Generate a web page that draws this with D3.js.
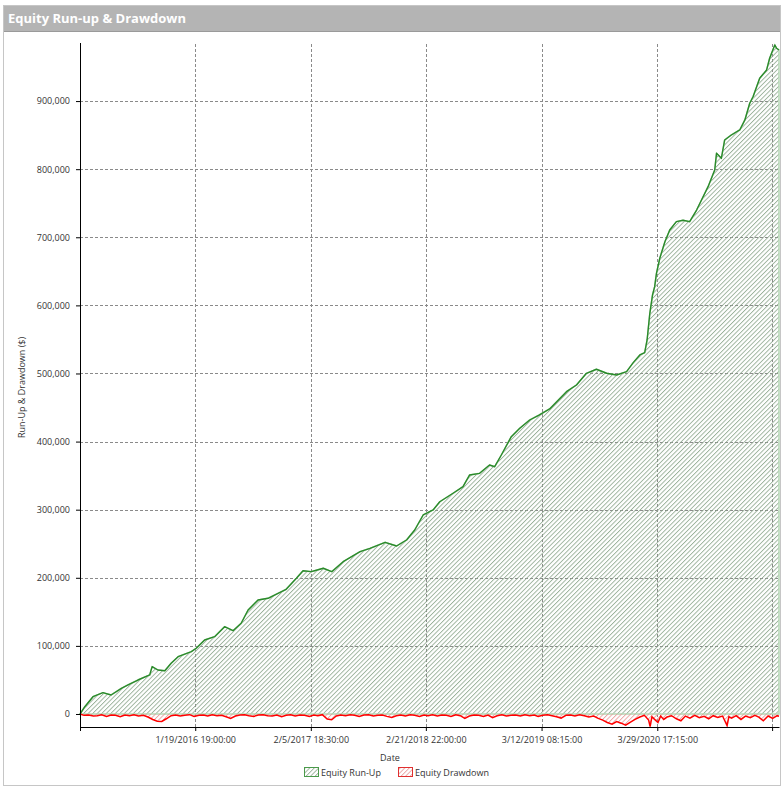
<!DOCTYPE html>
<html>
<head>
<meta charset="utf-8">
<script src="https://cdn.jsdelivr.net/npm/d3@7"></script>
<style>
  body { margin: 0; background: #fff; }
  text { font-family: "Open Sans", sans-serif; }
</style>
</head>
<body>
<div id="chart"></div>
<script>
// equity run-up
const runupDates = ["2015-01-03","2015-01-19","2015-02-15","2015-03-20","2015-04-16","2015-05-20","2015-06-11","2015-07-14","2015-08-22","2015-08-30",
  "2015-09-18","2015-10-11","2015-11-01","2015-11-24","2016-01-07","2016-01-23","2016-02-20","2016-03-24","2016-04-26","2016-05-24",
  "2016-06-20","2016-07-13","2016-08-15","2016-09-17","2016-10-20","2016-11-16","2016-12-20","2017-01-11","2017-02-07","2017-02-27",
  "2017-03-19","2017-04-16","2017-05-24","2017-07-19","2017-08-21","2017-10-10","2017-11-17","2017-12-20","2018-01-16","2018-02-13",
  "2018-03-18","2018-04-09","2018-05-23","2018-06-25","2018-07-17","2018-08-19","2018-09-21","2018-10-08","2018-10-30","2018-12-02",
  "2018-12-30","2019-02-01","2019-03-04","2019-04-08","2019-06-03","2019-07-06","2019-08-08","2019-09-10","2019-10-14","2019-11-16",
  "2019-12-19","2020-01-10","2020-02-01","2020-02-17","2020-02-25","2020-03-05","2020-03-14","2020-03-21","2020-03-27","2020-04-07",
  "2020-04-24","2020-05-10","2020-06-01","2020-06-23","2020-07-15","2020-08-07","2020-08-18","2020-09-14","2020-10-06","2020-10-12",
  "2020-10-28","2020-11-08","2020-11-30","2020-12-28","2021-01-14","2021-01-30","2021-02-10","2021-03-04","2021-03-27","2021-04-06",
  "2021-04-23","2021-04-29","2021-05-07"];
const runupValues = [0,10700,25400,31300,27900,37700,42600,49900,57300,69500,
  64600,63600,74400,84100,91500,96500,108700,113500,128200,122300,
  133200,152700,167400,169900,177200,183100,199300,210400,209000,211400,
  214000,209000,223600,238300,243300,252100,246700,255500,270200,292200,
  299600,311700,324100,333800,351000,353400,365600,363100,380300,407200,
  419500,431700,439000,447900,473300,483100,500300,506200,500300,497800,
  502600,515900,527200,530500,549200,588400,615300,627500,647100,669200,
  693500,710700,722900,725000,722900,740000,750000,774300,798800,823300,
  816000,842900,850200,857600,872300,896800,906400,933500,945700,962900,
  982400,977500,975000];

// equity drawdown
const drawdownDates = ["2015-01-03","2015-01-16","2015-02-01","2015-02-16","2015-03-01","2015-03-16","2015-04-01","2015-04-16","2015-05-01","2015-05-16",
  "2015-06-01","2015-06-16","2015-07-01","2015-07-16","2015-08-01","2015-08-16","2015-09-01","2015-09-16","2015-10-01","2015-10-16",
  "2015-11-01","2015-11-16","2015-12-01","2015-12-16","2016-01-01","2016-01-16","2016-02-01","2016-02-16","2016-03-01","2016-03-16",
  "2016-04-01","2016-04-16","2016-05-01","2016-05-16","2016-06-01","2016-06-16","2016-07-01","2016-07-16","2016-08-01","2016-08-16",
  "2016-09-01","2016-09-16","2016-10-01","2016-10-16","2016-11-01","2016-11-16","2016-12-01","2016-12-16","2017-01-01","2017-01-16",
  "2017-02-01","2017-02-16","2017-03-01","2017-03-16","2017-04-01","2017-04-16","2017-05-01","2017-05-16","2017-06-01","2017-06-16",
  "2017-07-01","2017-07-16","2017-08-01","2017-08-16","2017-09-01","2017-09-16","2017-10-01","2017-10-16","2017-11-01","2017-11-16",
  "2017-12-01","2017-12-16","2018-01-01","2018-01-16","2018-02-01","2018-02-16","2018-03-01","2018-03-16","2018-04-01","2018-04-16",
  "2018-05-01","2018-05-16","2018-06-01","2018-06-16","2018-07-01","2018-07-16","2018-08-01","2018-08-16","2018-09-01","2018-09-16",
  "2018-10-01","2018-10-16","2018-11-01","2018-11-16","2018-12-01","2018-12-16","2019-01-01","2019-01-16","2019-02-01","2019-02-16",
  "2019-03-01","2019-03-16","2019-04-01","2019-04-16","2019-05-01","2019-05-16","2019-06-01","2019-06-16","2019-07-01","2019-07-16",
  "2019-08-01","2019-08-16","2019-09-01","2019-09-16","2019-10-01","2019-10-16","2019-11-01","2019-11-16","2019-12-01","2019-12-16",
  "2020-01-01","2020-01-16","2020-02-01","2020-02-16","2020-03-01","2020-03-06","2020-03-12","2020-03-20","2020-04-01","2020-04-10",
  "2020-04-20","2020-05-01","2020-05-16","2020-06-01","2020-06-16","2020-07-01","2020-07-16","2020-08-01","2020-08-16","2020-09-01",
  "2020-09-16","2020-10-01","2020-10-16","2020-11-01","2020-11-16","2020-11-22","2020-12-01","2020-12-16","2021-01-01","2021-01-16",
  "2021-02-01","2021-02-16","2021-03-01","2021-03-16","2021-04-01","2021-04-16","2021-05-01","2021-05-07"];
const drawdownValues = [0,-2000,-1500,-3000,-2500,-1000,-3500,-1500,-2000,-4000,
  -1500,-2500,-1000,-3000,-2000,-4500,-8000,-10500,-11000,-7000,
  -2500,-1500,-3000,-2000,-1000,-3500,-2000,-1500,-3000,-1000,
  -2500,-2000,-4000,-6500,-3000,-1500,-1000,-2500,-3500,-1500,
  -1000,-2500,-3000,-1500,-4000,-2000,-1000,-3000,-1500,-2000,
  -3500,-1500,-2500,-1000,-7500,-8500,-3000,-1500,-2500,-1000,
  -2000,-3500,-1500,-1000,-3000,-2000,-1500,-3500,-5000,-2500,
  -1500,-3000,-1000,-2000,-3500,-1500,-2500,-1000,-3000,-1500,
  -2000,-3500,-1000,-2500,-6500,-3000,-1500,-2000,-3500,-1500,
  -5500,-2500,-1000,-3000,-2000,-1500,-3000,-1000,-2500,-1500,
  -3500,-2000,-1000,-2500,-4000,-6000,-2000,-1500,-3000,-1000,
  -2500,-4500,-3000,-6500,-9000,-12500,-15000,-11000,-13500,-16500,
  -12000,-8000,-4500,-2000,-9000,-18500,-4000,-7500,-12500,-3000,
  -8000,-4500,-2500,-7000,-10000,-3000,-6000,-2000,-5500,-3500,
  -7000,-2500,-5000,-3000,-17000,-4000,-6000,-2500,-8000,-3000,
  -5500,-2000,-4500,-10000,-3000,-6500,-2500,-3500];

const xTickDates = ["2015-01-03T00:00","2016-01-19T19:00","2017-02-05T18:30","2018-02-21T22:00","2019-03-12T08:15","2020-03-29T17:15","2021-04-14T03:00"];
const xTickLabels = ["","1/19/2016 19:00:00","2/5/2017 18:30:00","2/21/2018 22:00:00","3/12/2019 08:15:00","3/29/2020 17:15:00",""];
const yTicks = [0,100000,200000,300000,400000,500000,600000,700000,800000,900000];

const parseDay = d3.timeParse("%Y-%m-%d");
const parseTick = d3.timeParse("%Y-%m-%dT%H:%M");

const runup = runupDates.map((d, i) => ({date: parseDay(d), value: runupValues[i]}));
const drawdown = drawdownDates.map((d, i) => ({date: parseDay(d), value: drawdownValues[i]}));
const xTicks = xTickDates.map(parseTick);

const W = 784, H = 790;
const plotLeft = 80, plotRight = 779, plotTop = 44, plotBottom = 727;

const svg = d3.select("#chart").append("svg")
  .attr("width", W).attr("height", H);

const defs = svg.append("defs");
function hatch(id, color) {
  const p = defs.append("pattern")
    .attr("id", id)
    .attr("patternUnits", "userSpaceOnUse")
    .attr("width", 3.2).attr("height", 3.2)
    .attr("patternTransform", "rotate(45)");
  p.append("line")
    .attr("x1", 0.5).attr("y1", 0).attr("x2", 0.5).attr("y2", 3.2)
    .attr("stroke", color).attr("stroke-width", 0.8);
}
hatch("hatchGreen", "#8aa58a");
hatch("hatchRed", "#e89595");

// panel + title bar
svg.append("rect")
  .attr("x", 3.5).attr("y", 5.5).attr("width", 777).attr("height", 780)
  .attr("fill", "#fff").attr("stroke", "#c6c6c6");
svg.append("rect")
  .attr("x", 4).attr("y", 6).attr("width", 776).attr("height", 25)
  .attr("fill", "#b4b4b4");
svg.append("line")
  .attr("x1", 4).attr("x2", 780).attr("y1", 31.5).attr("y2", 31.5)
  .attr("stroke", "#9a9a9a");
svg.append("text")
  .attr("x", 8).attr("y", 23)
  .attr("fill", "#fff")
  .style("font-size", "13px")
  .style("font-weight", "700")
  .text("Equity Run-up & Drawdown");

const x = d3.scaleTime()
  .domain([runup[0].date, runup[runup.length - 1].date])
  .range([plotLeft, plotRight]);
const y = d3.scaleLinear()
  .domain([-19100, 983800])
  .range([plotBottom, plotTop]);

// grid
const grid = svg.append("g")
  .attr("stroke", "#8a8a8a")
  .attr("stroke-dasharray", "3,2")
  .attr("stroke-width", 1);
grid.selectAll(".hg")
  .data(yTicks.filter(d => d > 0))
  .enter().append("line")
  .attr("x1", plotLeft).attr("x2", plotRight)
  .attr("y1", d => Math.round(y(d)) + 0.5)
  .attr("y2", d => Math.round(y(d)) + 0.5);
grid.selectAll(".vg")
  .data(xTicks.slice(1))
  .enter().append("line")
  .attr("x1", d => Math.round(x(d)) + 0.5)
  .attr("x2", d => Math.round(x(d)) + 0.5)
  .attr("y1", plotTop).attr("y2", plotBottom);

// run-up area and line
svg.append("path")
  .datum(runup)
  .attr("fill", "url(#hatchGreen)")
  .attr("stroke", "#b5d8b5")
  .attr("stroke-width", 1.5)
  .attr("d", d3.area()
    .x(d => x(d.date))
    .y0(y(0))
    .y1(d => y(d.value)));
svg.append("path")
  .datum(runup)
  .attr("fill", "none")
  .attr("stroke", "#2a8a2a")
  .attr("stroke-width", 1.4)
  .attr("stroke-linejoin", "round")
  .attr("d", d3.line()
    .x(d => x(d.date))
    .y(d => y(d.value)));

// drawdown area and line
svg.append("path")
  .datum(drawdown)
  .attr("fill", "url(#hatchRed)")
  .attr("d", d3.area()
    .x(d => x(d.date))
    .y0(y(0))
    .y1(d => y(d.value)));
svg.append("path")
  .datum(drawdown)
  .attr("fill", "none")
  .attr("stroke", "#ff0000")
  .attr("stroke-width", 1.5)
  .attr("d", d3.line()
    .x(d => x(d.date))
    .y(d => y(d.value)));

// axes
const yAxis = svg.append("g")
  .attr("transform", `translate(${plotLeft},0)`)
  .call(d3.axisLeft(y).tickValues(yTicks).tickSize(4).tickSizeOuter(0).tickPadding(6)
    .tickFormat(d3.format(",")));
const xAxis = svg.append("g")
  .attr("transform", `translate(0,${plotBottom})`)
  .call(d3.axisBottom(x).tickValues(xTicks).tickSize(4).tickSizeOuter(0).tickPadding(6)
    .tickFormat((d, i) => xTickLabels[i]));
[yAxis, xAxis].forEach(a => {
  a.selectAll("text").attr("fill", "#333").style("font-size", "9px").style("font-family", "'Open Sans', sans-serif");
  a.select(".domain").attr("stroke", "#000");
  a.selectAll(".tick line").attr("stroke", "#000");
});
yAxis.select(".domain").attr("d", `M0.5,${plotTop - 1}V${plotBottom}`);

svg.append("text")
  .attr("transform", `translate(25,${(plotTop + plotBottom) / 2 + 2}) rotate(-90)`)
  .attr("text-anchor", "middle")
  .attr("fill", "#333")
  .style("font-size", "9px")
  .text("Run-Up & Drawdown ($)");

svg.append("text")
  .attr("x", 390).attr("y", 761)
  .attr("text-anchor", "middle")
  .attr("fill", "#333")
  .style("font-size", "9px")
  .text("Date");

// legend
const legendItems = [
  {label: "Equity Run-Up", fill: "url(#hatchGreen)", stroke: "#4a9a4a", x: 304},
  {label: "Equity Drawdown", fill: "url(#hatchRed)", stroke: "#e03030", x: 398}
];
const legend = svg.append("g");
legendItems.forEach(it => {
  legend.append("rect")
    .attr("x", it.x + 0.5).attr("y", 767.5).attr("width", 14).attr("height", 9)
    .attr("fill", it.fill).attr("stroke", it.stroke);
  legend.append("text")
    .attr("x", it.x + 17).attr("y", 775.5)
    .attr("fill", "#333")
    .style("font-size", "9px")
    .text(it.label);
});
</script>
</body>
</html>
